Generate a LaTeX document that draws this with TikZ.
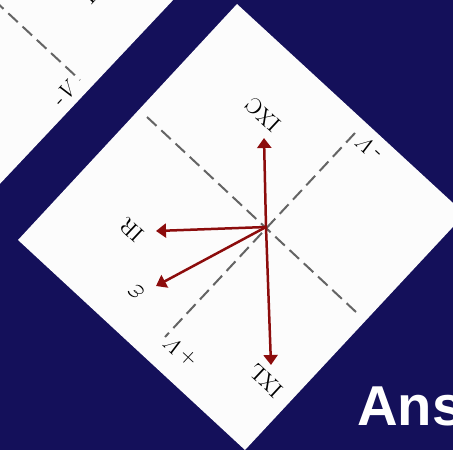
\documentclass[tikz,border=0pt]{standalone}
\usepackage{fontspec}
\newfontfamily\slidefont{Liberation Sans}
\usetikzlibrary{arrows.meta}
\definecolor{slidebg}{RGB}{20,16,90}
\definecolor{paper}{RGB}{252,252,252}
\definecolor{phasor}{RGB}{140,12,12}
\definecolor{axisgray}{RGB}{100,100,100}

\begin{document}
\begin{tikzpicture}[
  x=0.02cm, y=-0.02cm,
  >={Triangle[length=0.2cm,width=0.28cm]},
  sheet/.style={fill=paper, draw=none},
  axis/.style={draw=axisgray, line width=0.04cm,
    dash pattern=on 0.26cm off 0.13cm},
  vec/.style={->, draw=phasor, fill=phasor, line width=0.05cm},
  labfont/.style={font=\fontsize{12.5}{15}\selectfont, inner sep=0pt},
  lab/.style={labfont, rotate=137},
  labB/.style={labfont, rotate=47},
  ansfont/.style={font=\slidefont\bfseries\fontsize{32}{38}\selectfont,
    text=white, inner sep=0pt}
]
\useasboundingbox (0,0) rectangle (453,450);
% slide background
\fill[slidebg] (0,0) rectangle (453,450);
\clip (0,0) rectangle (453,450);
% second sheet, cut by the frame
\fill[sheet] (-20,-20) -- (192,-20) -- (-20,205) -- cycle;
\coordinate (axB1) at (-6,0);
\coordinate (axB2) at (80,80);
\draw[axis] (axB1) -- (axB2);
\node[labB] (lminusVB) at (65,93) {-\textit{V}};
\node[labB, anchor=base west] (lXCB) at (91,6) {IXC};
% main sheet
\fill[sheet] (237,4) -- (465,214) -- (245,450) -- (18,240) -- cycle;
% dashed axes
\coordinate (o) at (266,227);
\coordinate (axA1) at (147,117);
\coordinate (axA2) at (356,312);
\coordinate (axV1) at (355,133);
\coordinate (axV2) at (165,337);
\draw[axis] (axA1) -- (axA2);
\draw[axis] (axV1) -- (axV2);
% phasors
\coordinate (tXC) at (264,138);
\coordinate (tXL) at (271,365);
\coordinate (tR) at (156,231);
\coordinate (teps) at (156,286);
\draw[vec] (o) -- (tXC);
\draw[vec] (o) -- (tXL);
\draw[vec] (o) -- (tR);
\draw[vec] (o) -- (teps);
% labels
\node[lab] (lXC) at (263,115) {IXC};
\node[lab] (lXL) at (266,381) {IXL};
\node[lab] (lR) at (132,230) {IR};
\node[lab, font=\fontsize{17}{20}\selectfont] (leps) at (136,292) {$\varepsilon$};
\node[lab] (lplusV) at (181,352) {+\textit{V}};
\node[lab] (lminusV) at (369,148) {-\textit{V}};
% slide title, cut at the right
\node[ansfont, anchor=base west] (ans) at (357,425) {Ans};
\end{tikzpicture}
\end{document}
